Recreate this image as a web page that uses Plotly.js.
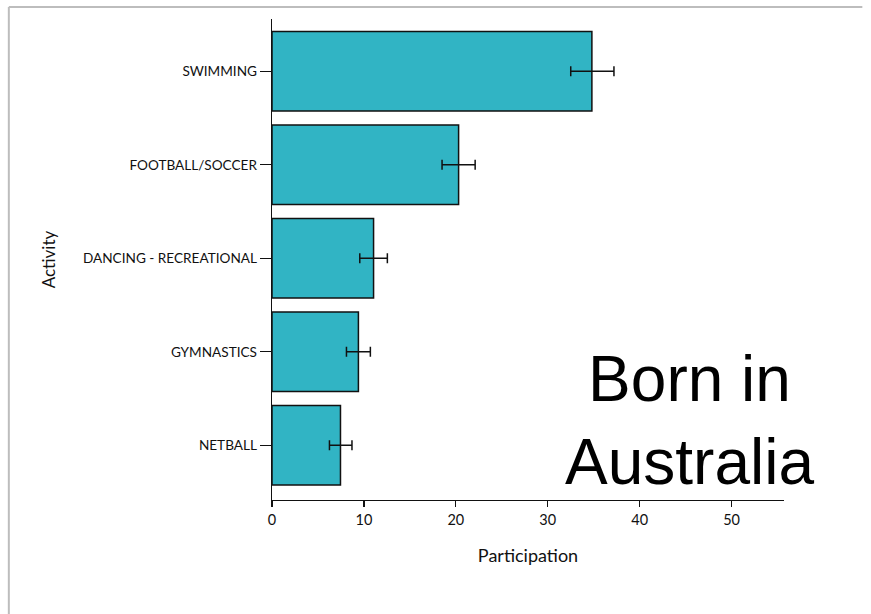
<!DOCTYPE html>
<html>
<head>
<meta charset="utf-8">
<script src="https://cdn.plot.ly/plotly-3.0.1.min.js"></script>
<style>html,body{margin:0;padding:0;background:#fff;}#chart{width:871px;height:614px;}</style>
</head>
<body>
<div id="chart"></div>
<script>
// Data (bottom to top)
const activities = ["NETBALL", "GYMNASTICS", "DANCING - RECREATIONAL", "FOOTBALL/SOCCER", "SWIMMING"];
const participation = [7.45, 9.4, 11.05, 20.3, 34.8];
const errPlus = [1.25, 1.3, 1.5, 1.8, 2.4];
const errMinus = [1.2, 1.3, 1.5, 1.8, 2.3];
const xTicks = [0, 10, 20, 30, 40, 50];

const trace = {
  type: "bar",
  orientation: "h",
  y: activities,
  x: participation,
  width: 0.85,
  marker: {color: "#31B4C4", line: {color: "#111", width: 1.5}},
  error_x: {type: "data", symmetric: false, array: errPlus, arrayminus: errMinus,
            color: "#111", thickness: 1.5, width: 5},
  hoverinfo: "skip"
};

const layout = {
  width: 871, height: 614,
  margin: {l: 272, r: 86.5, t: 19, b: 114},
  paper_bgcolor: "#fff", plot_bgcolor: "#fff",
  showlegend: false,
  font: {family: "Lato, 'Open Sans', sans-serif", color: "#111", size: 13},
  xaxis: {
    range: [0, 55.7], tickvals: xTicks, ticktext: xTicks.map(String),
    showgrid: false, zeroline: false, showline: true, linecolor: "#111", linewidth: 1.3,
    ticks: "outside", ticklen: 6, tickcolor: "#111", tickwidth: 1.3,
    tickfont: {size: 14.5},
    title: {text: "Participation", font: {size: 18}, standoff: 22}
  },
  yaxis: {
    type: "category", categoryorder: "array", categoryarray: activities,
    range: [-0.585, 4.56],
    showgrid: false, zeroline: false, showline: true, linecolor: "#111", linewidth: 1.3,
    ticks: "outside", ticklen: 11, tickcolor: "#111", tickwidth: 1.3,
    tickfont: {size: 13.6},
    title: {text: "Activity", font: {size: 17}, standoff: 23}
  },
  annotations: [{
    xref: "paper", yref: "paper", x: 0.816, y: 0.166,
    text: "Born in<br>Australia", showarrow: false,
    font: {family: "'Liberation Sans', Arial, sans-serif", size: 64, color: "#000"},
    align: "center", xanchor: "center", yanchor: "middle"
  }],
  shapes: [
    {type: "line", xref: "paper", yref: "paper", x0: -0.514, x1: 1.153, y0: 1.025, y1: 1.025,
     line: {color: "#bdbdbd", width: 2}},
    {type: "line", xref: "paper", yref: "paper", x0: -0.514, x1: -0.514, y0: 1.025, y1: -0.237,
     line: {color: "#bdbdbd", width: 2}}
  ]
};

Plotly.newPlot("chart", [trace], layout, {displayModeBar: false, staticPlot: true});
</script>
</body>
</html>
